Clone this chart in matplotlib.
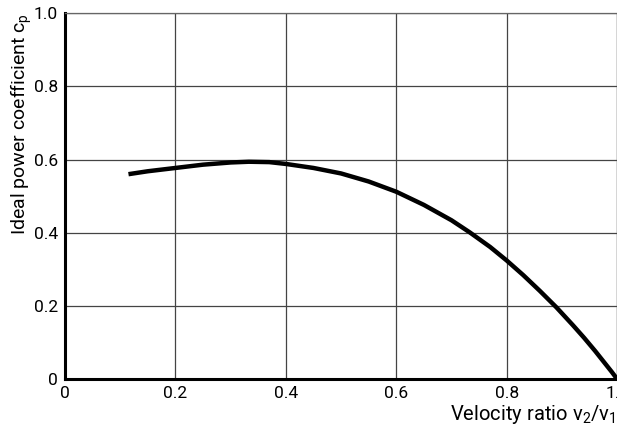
import numpy as np
import matplotlib.pyplot as plt

# values
v_ratio = [0.115, 0.15, 0.2, 0.25, 0.3, 0.333, 0.37, 0.4, 0.45, 0.5, 0.55, 0.6,
           0.65, 0.7, 0.733, 0.77, 0.8, 0.83, 0.86, 0.89, 0.92, 0.94, 0.96,
           0.98, 0.99, 1.0]
cp = [0.560, 0.568, 0.577, 0.586, 0.592, 0.594, 0.593, 0.588, 0.577, 0.562,
      0.540, 0.512, 0.476, 0.434, 0.401, 0.361, 0.324, 0.284, 0.241, 0.196,
      0.147, 0.113, 0.077, 0.039, 0.020, 0.0]

ticks = [0, 0.2, 0.4, 0.6, 0.8, 1.0]
tick_labels = ["0", "0.2", "0.4", "0.6", "0.8", "1.0"]

plt.rcParams['font.family'] = ['Roboto', 'DejaVu Sans']
plt.rcParams['mathtext.fontset'] = 'custom'
plt.rcParams['mathtext.rm'] = 'Roboto'
plt.rcParams['mathtext.it'] = 'Roboto'
plt.rcParams['mathtext.default'] = 'regular'

fig = plt.figure(figsize=(6.17, 4.25), dpi=100)
ax = fig.add_axes([0.1053, 0.108, 0.895, 0.861])

ax.plot(v_ratio, cp, color='black', linewidth=3.2, solid_capstyle='butt', zorder=3)

ax.set_xlim(0, 1.0)
ax.set_ylim(0, 1.0)
ax.set_xticks(ticks)
ax.set_xticklabels(tick_labels)
ax.set_yticks(ticks)
ax.set_yticklabels(tick_labels)
ax.tick_params(length=0, labelsize=12.5, pad=5)

ax.grid(True, color='#444444', linewidth=0.9)
ax.set_axisbelow(True)

ax.spines['left'].set_linewidth(2.2)
ax.spines['bottom'].set_linewidth(2.2)
ax.spines['top'].set_linewidth(0.9)
ax.spines['top'].set_color('#666666')
ax.spines['right'].set_linewidth(0.9)
ax.spines['right'].set_color('#666666')

ax.set_xlabel("Velocity ratio v$_2$/v$_1$", fontsize=14.5)
ax.xaxis.set_label_coords(0.997, -0.066)
ax.xaxis.label.set_horizontalalignment('right')
ax.set_ylabel("Ideal power coefficient c$_p$", fontsize=14)
ax.yaxis.set_label_coords(-0.078, 1.0)
ax.yaxis.label.set_verticalalignment('center')
ax.yaxis.label.set_horizontalalignment('right')

fig.savefig("out.png", dpi=100)
